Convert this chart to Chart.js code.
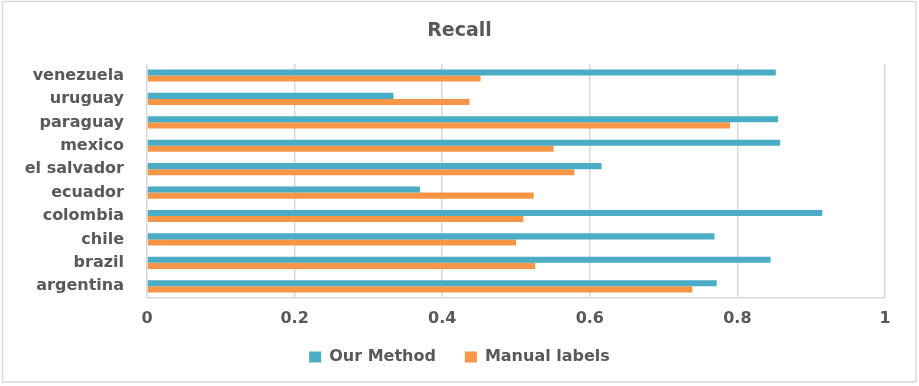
<!DOCTYPE html>
<html>
<head>
<meta charset="utf-8">
<script src="https://cdn.jsdelivr.net/npm/chart.js@4.4.1/dist/chart.umd.min.js"></script>
<style>
  html, body { margin: 0; padding: 0; background: #ffffff; }
  #wrap { width: 919px; height: 386px; position: relative; }
</style>
</head>
<body>
<div id="wrap"><canvas id="c"></canvas></div>
<script>
// Recall per country, two approaches
const countries = ['venezuela', 'uruguay', 'paraguay', 'mexico', 'el salvador',
                   'ecuador', 'colombia', 'chile', 'brazil', 'argentina'];
const ourMethod    = [0.852, 0.334, 0.855, 0.858, 0.616, 0.370, 0.915, 0.769, 0.845, 0.772];
const manualLabels = [0.452, 0.437, 0.790, 0.551, 0.579, 0.524, 0.510, 0.500, 0.526, 0.739];
const xTickLabels  = ['0', '0.2', '0.4', '0.6', '0.8', '1'];

const TEXT = '#595959';
const GRID = '#d9d9d9';
const FONT = "'DejaVu Sans', sans-serif";

// thin light frame around the whole chart
const frame = {
  id: 'frame',
  afterDraw(chart) {
    const ctx = chart.ctx;
    ctx.save();
    ctx.strokeStyle = GRID;
    ctx.lineWidth = 1.5;
    ctx.strokeRect(2.5, 1.5, 913.5, 380.5);
    ctx.restore();
  }
};

// let tick labels spill outside their (fixed-size) scale box
const noLabelClip = scale => { scale._computeLabelArea = () => undefined; };

new Chart(document.getElementById('c'), {
  type: 'bar',
  data: {
    labels: countries,
    datasets: [
      { label: 'Our Method', data: ourMethod, backgroundColor: '#4bacc6', borderWidth: 0 },
      { label: 'Manual labels', data: manualLabels, backgroundColor: '#f79646', borderWidth: 0 }
    ]
  },
  options: {
    indexAxis: 'y',
    responsive: true,
    maintainAspectRatio: false,
    animation: false,
    layout: { padding: { left: 34, right: 34, top: 0, bottom: 11 } },
    datasets: { bar: { categoryPercentage: 0.52, barPercentage: 1.0 } },
    plugins: {
      title: {
        display: true,
        text: 'Recall',
        color: TEXT,
        font: { family: FONT, size: 19, weight: 'bold' },
        padding: { top: 20, bottom: 21 }
      },
      legend: {
        position: 'bottom',
        labels: {
          color: TEXT,
          font: { family: FONT, size: 16, weight: 'bold' },
          boxWidth: 12,
          boxHeight: 11,
          padding: 29
        }
      },
      tooltip: { enabled: false }
    },
    scales: {
      x: {
        min: 0,
        max: 1,
        ticks: {
          stepSize: 0.2,
          color: TEXT,
          padding: 11,
          font: { family: FONT, size: 16, weight: 'bold' },
          callback: (v, i) => xTickLabels[i]
        },
        grid: { color: GRID, lineWidth: 1.5, drawTicks: false },
        border: { color: GRID, width: 1.5 },
        afterFit(scale) { scale.height = 22; noLabelClip(scale); }
      },
      y: {
        ticks: {
          color: TEXT,
          padding: 23,
          font: { family: FONT, size: 16, weight: 'bold' }
        },
        grid: { display: false, drawTicks: false },
        border: { display: false },
        afterFit(scale) { scale.width = 113; noLabelClip(scale); }
      }
    }
  },
  plugins: [frame]
});
</script>
</body>
</html>
